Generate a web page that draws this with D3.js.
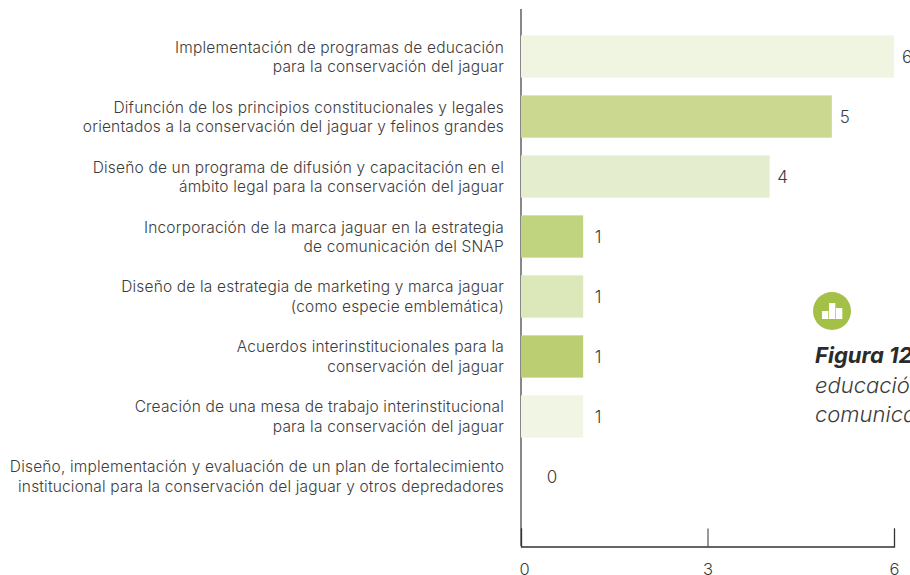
<!DOCTYPE html>
<html><head><meta charset="utf-8">
<script src="https://cdn.jsdelivr.net/npm/d3@7"></script>
<style>html,body{margin:0;padding:0;background:#fff;overflow:hidden}svg{display:block}
text{font-family:"Inter","Open Sans",sans-serif;fill:#3c3c3c}</style></head><body>
<svg id="c" width="910" height="575"></svg>
<script>
const categories=[
 ["Implementación de programas de educación","para la conservación del jaguar"],
 ["Difunción de los principios constitucionales y legales","orientados a la conservación del jaguar y felinos grandes"],
 ["Diseño de un programa de difusión y capacitación en el","ámbito legal para la conservación del jaguar"],
 ["Incorporación de la marca jaguar en la estrategia","de comunicación del SNAP"],
 ["Diseño de la estrategia de marketing y marca jaguar","(como especie emblemática)"],
 ["Acuerdos interinstitucionales para la","conservación del jaguar"],
 ["Creación de una mesa de trabajo interinstitucional","para la conservación del jaguar"],
 ["Diseño, implementación y evaluación de un plan de fortalecimiento","institucional para la conservación del jaguar y otros depredadores"]
];
const values=[6,5,4,1,1,1,1,0];
const barColors=["#f0f5e1","#cad98f","#e4edcd","#c0d480","#dde8ba","#bbcf72","#f1f5e3","#f1f5e3"];
const xTicks=[0,3,6];
const captionLines=["educación y","comunicación"];

const svg=d3.select("#c");
const x=d3.scaleLinear().domain([0,6]).range([521,894]);
const y=d3.scaleBand().domain(d3.range(values.length)).range([27,506]).paddingInner(0.295).paddingOuter(0.14);

svg.append("line").attr("x1",521).attr("x2",521).attr("y1",9).attr("y2",546).attr("stroke","#555").attr("stroke-width",1.4);

svg.selectAll("rect.bar").data(values).join("rect").attr("class","bar")
 .attr("x",x(0)).attr("y",(d,i)=>y(i)).attr("width",d=>x(d)-x(0)).attr("height",y.bandwidth())
 .attr("fill",(d,i)=>barColors[i]);

svg.selectAll("text.val").data(values).join("text").attr("class","val")
 .attr("x",d=>d===0?x(0)+31:x(d)+(d===1?15:13)).attr("y",(d,i)=>y(i)+y.bandwidth()/2+6.5)
 .attr("text-anchor","middle").attr("font-size",17).attr("font-weight",300)
 .text(d=>d);

const lab=svg.selectAll("text.lab").data(categories).join("text").attr("class","lab")
 .attr("text-anchor","end").attr("font-size",15.5).attr("letter-spacing",0.18).attr("font-weight",300);
lab.each(function(d,i){
  const c=y(i)+y.bandwidth()/2;
  d3.select(this).selectAll("tspan").data(d).join("tspan")
   .attr("x",504).attr("y",(t,j)=>c+(j===0?-4:15.5)).text(t=>t);
});

const ax=svg.append("g").attr("transform","translate(0,546.5)")
 .call(d3.axisBottom(x).tickValues(xTicks).tickSize(-18).tickFormat(d3.format("d")));
ax.select(".domain").attr("stroke","#333").attr("stroke-width",1.3);
ax.selectAll(".tick line").attr("stroke","#333");
ax.selectAll("text").attr("font-size",16.5).attr("font-weight",300).attr("font-family","Inter").attr("fill","#3c3c3c").attr("y",28).attr("dy",0).attr("x",d=>d===0?3:0);

const ic=svg.append("g").attr("transform","translate(832,311)");
ic.append("circle").attr("r",19).attr("fill","#a5c046");
const iconBars=[8,16,11];
const iy=d3.scaleLinear().domain([0,16]).range([8,-8]);
iconBars.forEach((v,i)=>ic.append("rect").attr("x",-10+i*7).attr("y",iy(v)).attr("width",6.3).attr("height",iy(0)-iy(v)).attr("fill","#fff"));

svg.append("text").attr("x",815).attr("y",363).attr("font-size",22).attr("font-weight",700).attr("font-style","italic").style("fill","#2b2b2b").text("Figura 12.");
svg.selectAll("text.cap").data(captionLines).join("text").attr("class","cap").attr("x",815).attr("y",(d,i)=>392.5+i*29)
 .attr("font-size",22).attr("font-weight",300).attr("font-style","italic").text(d=>d);
</script></body></html>
